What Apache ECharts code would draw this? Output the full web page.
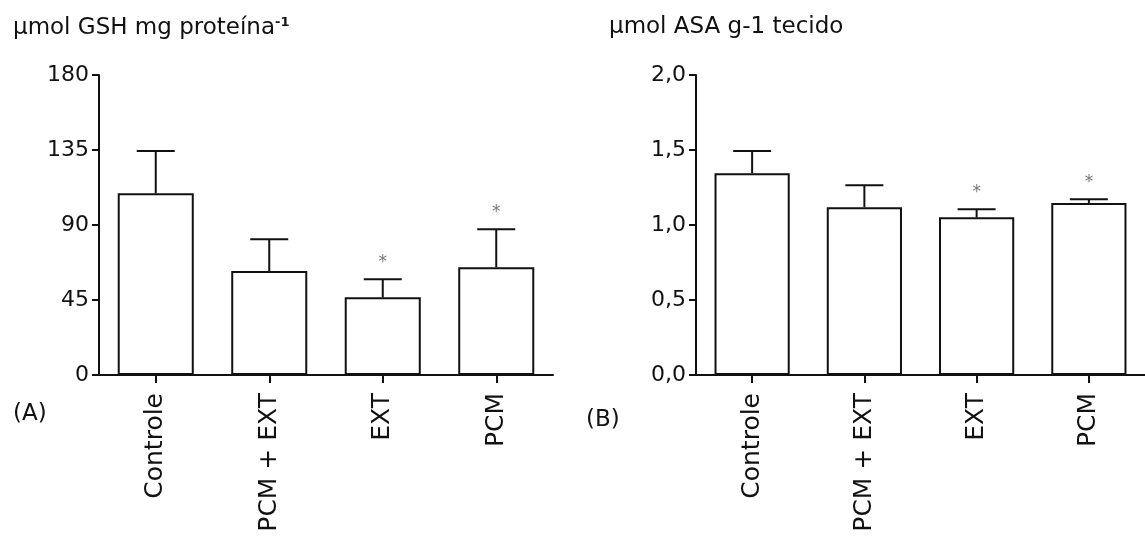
<!DOCTYPE html>
<html>
<head>
<meta charset="utf-8">
<script src="https://cdn.jsdelivr.net/npm/echarts@6/dist/echarts.min.js"></script>
<style>
  html, body { margin: 0; padding: 0; background: #fff; }
  #chart { width: 1145px; height: 541px; }
</style>
</head>
<body>
<div id="chart"></div>
<script>
const categories = ['Controle', 'PCM + EXT', 'EXT', 'PCM']

// (A) GSH
const gshMean = [109, 62.4, 46.6, 64.6]
const gshErr = [25.4, 19.0, 10.8, 22.8]
const gshStar = [0, 0, 1, 1]
const gshTicks = [0, 45, 90, 135, 180]

// (B) ASA
const asaMean = [1.345, 1.118, 1.051, 1.147]
const asaErr = [0.148, 0.147, 0.054, 0.024]
const asaStar = [0, 0, 1, 1]
const asaTicks = [0, 0.5, 1.0, 1.5, 2.0]

const FONT = 'DejaVu Sans'
const INK = '#111'

const chart = echarts.init(document.getElementById('chart'))

function errorRender(params, api) {
  const i = api.value(0)
  const mean = api.value(1)
  const err = api.value(2)
  const star = api.value(3)
  const base = api.coord([i, mean])
  const top = api.coord([i, mean + err])
  const half = 19
  const style = { stroke: INK, lineWidth: 2 }
  const children = [
    { type: 'line', shape: { x1: base[0], y1: base[1], x2: top[0], y2: top[1] }, style },
    { type: 'line', shape: { x1: top[0] - half, y1: top[1], x2: top[0] + half, y2: top[1] }, style }
  ]
  if (star) {
    children.push({
      type: 'text',
      style: {
        text: '*', x: top[0], y: top[1] - 8,
        align: 'center', verticalAlign: 'bottom',
        fontSize: 17, fontFamily: FONT, fill: '#777'
      }
    })
  }
  return { type: 'group', children }
}

function yAxis(idx, ticks, fmt) {
  return {
    type: 'value',
    gridIndex: idx,
    min: ticks[0],
    max: ticks[ticks.length - 1],
    interval: ticks[1] - ticks[0],
    axisLine: { show: true, lineStyle: { color: INK, width: 2 } },
    axisTick: { show: true, length: 7, lineStyle: { color: INK, width: 2 } },
    axisLabel: { color: INK, fontSize: 22, fontFamily: FONT, margin: 10, formatter: fmt },
    splitLine: { show: false }
  }
}

function xAxis(idx) {
  return {
    type: 'category',
    gridIndex: idx,
    data: categories,
    axisLine: { show: true, lineStyle: { color: INK, width: 2 } },
    axisTick: { show: true, alignWithLabel: true, length: 8, lineStyle: { color: INK, width: 2 } },
    axisLabel: { color: INK, fontSize: 25, fontFamily: FONT, rotate: 90, margin: 18, interval: 0 }
  }
}

const barStyle = { color: '#fff', borderColor: INK, borderWidth: 2 }
const labelText = { fontSize: 23, fontFamily: FONT, color: INK, fontWeight: 'normal' }

chart.setOption({
  animation: false,
  backgroundColor: '#fff',
  title: [
    {
      text: 'µmol GSH mg proteína{sup|-1}',
      left: 8, top: 11,
      textStyle: {
        ...labelText,
        rich: { sup: { fontSize: 13, fontWeight: 'bold', fontFamily: FONT, color: INK, verticalAlign: 'top', padding: [0, 0, 12, 0] } }
      }
    },
    { text: 'µmol ASA g-1 tecido', left: 604, top: 11, textStyle: labelText },
    { text: '(A)', left: 8, top: 398, textStyle: labelText },
    { text: '(B)', left: 581, top: 404, textStyle: labelText }
  ],
  grid: [
    { left: 99, top: 75, width: 454, height: 300 },
    { left: 696, top: 75, width: 453, height: 300 }
  ],
  xAxis: [xAxis(0), xAxis(1)],
  yAxis: [
    yAxis(0, gshTicks, v => String(v)),
    yAxis(1, asaTicks, v => v.toFixed(1).replace('.', ','))
  ],
  series: [
    { type: 'bar', xAxisIndex: 0, yAxisIndex: 0, barWidth: '67%', itemStyle: barStyle, data: gshMean },
    {
      type: 'custom', xAxisIndex: 0, yAxisIndex: 0, clip: false, renderItem: errorRender,
      data: gshMean.map((m, i) => [i, m, gshErr[i], gshStar[i]]), z: 3
    },
    { type: 'bar', xAxisIndex: 1, yAxisIndex: 1, barWidth: '67%', itemStyle: barStyle, data: asaMean },
    {
      type: 'custom', xAxisIndex: 1, yAxisIndex: 1, clip: false, renderItem: errorRender,
      data: asaMean.map((m, i) => [i, m, asaErr[i], asaStar[i]]), z: 3
    }
  ]
})
</script>
</body>
</html>
